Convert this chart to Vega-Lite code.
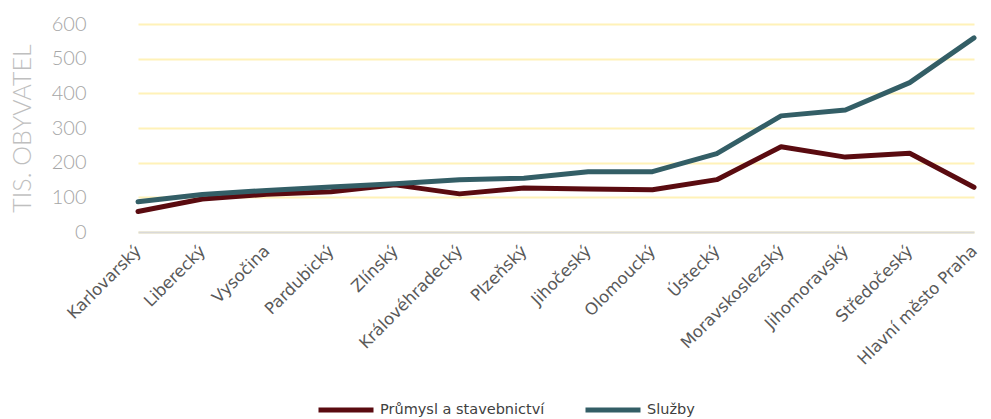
{
  "$schema": "https://vega.github.io/schema/vega-lite/v6.json",
  "width": 885,
  "height": 208,
  "autosize": {"type": "none"},
  "padding": {"left": 106, "top": 24, "right": 0, "bottom": 187},
  "background": "#ffffff",
  "config": {
    "view": {"stroke": null}
  },
  "data": {
    "values": [
      {"kraj": "Karlovarský", "sektor": "Průmysl a stavebnictví", "hodnota": 59},
      {"kraj": "Liberecký", "sektor": "Průmysl a stavebnictví", "hodnota": 95},
      {"kraj": "Vysočina", "sektor": "Průmysl a stavebnictví", "hodnota": 109},
      {"kraj": "Pardubický", "sektor": "Průmysl a stavebnictví", "hodnota": 116},
      {"kraj": "Zlínský", "sektor": "Průmysl a stavebnictví", "hodnota": 136},
      {"kraj": "Královéhradecký", "sektor": "Průmysl a stavebnictví", "hodnota": 110},
      {"kraj": "Plzeňský", "sektor": "Průmysl a stavebnictví", "hodnota": 127},
      {"kraj": "Jihočeský", "sektor": "Průmysl a stavebnictví", "hodnota": 124},
      {"kraj": "Olomoucký", "sektor": "Průmysl a stavebnictví", "hodnota": 122},
      {"kraj": "Ústecký", "sektor": "Průmysl a stavebnictví", "hodnota": 151},
      {"kraj": "Moravskoslezský", "sektor": "Průmysl a stavebnictví", "hodnota": 246},
      {"kraj": "Jihomoravský", "sektor": "Průmysl a stavebnictví", "hodnota": 216},
      {"kraj": "Středočeský", "sektor": "Průmysl a stavebnictví", "hodnota": 227},
      {"kraj": "Hlavní město Praha", "sektor": "Průmysl a stavebnictví", "hodnota": 129},
      {"kraj": "Karlovarský", "sektor": "Služby", "hodnota": 87},
      {"kraj": "Liberecký", "sektor": "Služby", "hodnota": 108},
      {"kraj": "Vysočina", "sektor": "Služby", "hodnota": 120},
      {"kraj": "Pardubický", "sektor": "Služby", "hodnota": 130},
      {"kraj": "Zlínský", "sektor": "Služby", "hodnota": 139},
      {"kraj": "Královéhradecký", "sektor": "Služby", "hodnota": 151},
      {"kraj": "Plzeňský", "sektor": "Služby", "hodnota": 155},
      {"kraj": "Jihočeský", "sektor": "Služby", "hodnota": 174},
      {"kraj": "Olomoucký", "sektor": "Služby", "hodnota": 174},
      {"kraj": "Ústecký", "sektor": "Služby", "hodnota": 226},
      {"kraj": "Moravskoslezský", "sektor": "Služby", "hodnota": 335},
      {"kraj": "Jihomoravský", "sektor": "Služby", "hodnota": 352},
      {"kraj": "Středočeský", "sektor": "Služby", "hodnota": 431},
      {"kraj": "Hlavní město Praha", "sektor": "Služby", "hodnota": 560}
    ]
  },
  "mark": {
    "type": "line",
    "strokeWidth": 5,
    "strokeCap": "round",
    "strokeJoin": "round"
  },
  "encoding": {
    "x": {
      "field": "kraj",
      "type": "nominal",
      "sort": null,
      "scale": {"type": "point", "range": [32, 868], "padding": 0},
      "axis": {
        "title": null,
        "domain": true,
        "domainColor": "#d9d9d9",
        "domainWidth": 2,
        "ticks": false,
        "grid": false,
        "labelAngle": -45,
        "labelAlign": "right",
        "labelBaseline": "middle",
        "labelPadding": 16,
        "labelFont": "DejaVu Sans",
        "labelFontSize": 16.5,
        "labelColor": "#595959",
        "labelOverlap": false
      }
    },
    "y": {
      "field": "hodnota",
      "type": "quantitative",
      "scale": {"domain": [0, 600], "nice": false},
      "axis": {
        "title": "TIS. OBYVATEL",
        "titleFont": "Lato",
        "titleFontWeight": 300,
        "titleFontSize": 25,
        "titleColor": "#bfbfbf",
        "titlePadding": 16,
        "values": [0, 100, 200, 300, 400, 500, 600],
        "domain": false,
        "ticks": false,
        "grid": true,
        "gridColor": "#fff2b8",
        "gridWidth": 2,
        "labelFont": "Lato",
        "labelFontWeight": 300,
        "labelFontSize": 20,
        "labelColor": "#a6a6a6",
        "labelPadding": 20
      }
    },
    "color": {
      "field": "sektor",
      "type": "nominal",
      "scale": {
        "domain": ["Průmysl a stavebnictví", "Služby"],
        "range": ["#5a0b10", "#335e66"]
      },
      "legend": {
        "title": null,
        "orient": "none",
        "direction": "horizontal",
        "legendX": 210,
        "legendY": 356,
        "symbolType": "stroke",
        "symbolStrokeWidth": 5,
        "symbolSize": 3025,
        "labelFont": "DejaVu Sans",
        "labelFontSize": 14.5,
        "labelColor": "#404040",
        "labelOffset": 4,
        "labelLimit": 0,
        "columnPadding": 30
      }
    }
  }
}
